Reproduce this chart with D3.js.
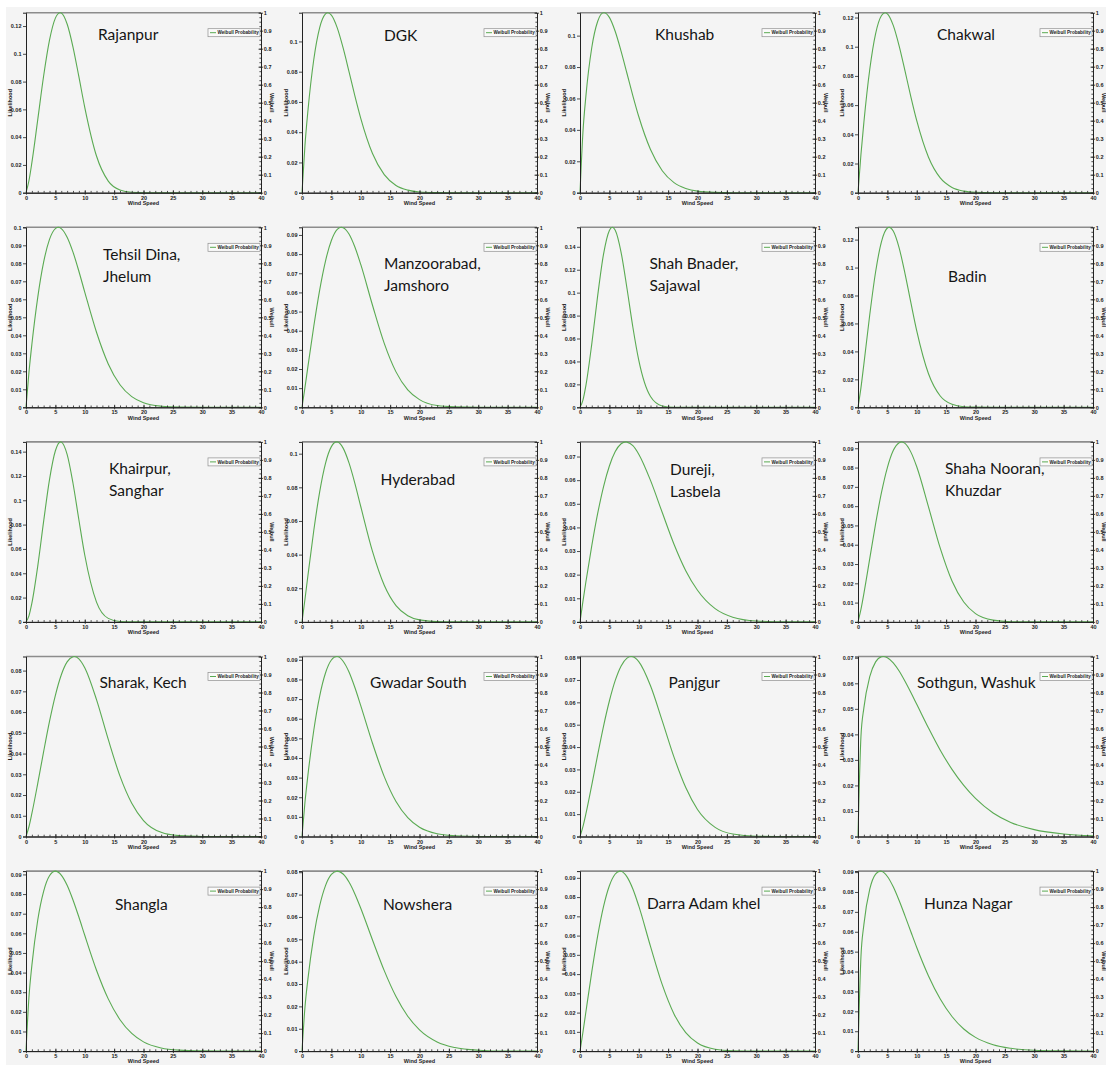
<!DOCTYPE html>
<html>
<head>
<meta charset="utf-8">
<script src="https://cdn.jsdelivr.net/npm/d3@7"></script>
<style>
  html, body { margin: 0; padding: 0; background: #ffffff; }
  svg { display: block; }
</style>
</head>
<body>
<svg id="chart" width="1106" height="1065"></svg>
<script>
// Weibull wind-speed likelihood curves, one panel per site.

const sites = [
  ["Rajanpur"], ["DGK"], ["Khushab"], ["Chakwal"],
  ["Tehsil Dina,", "Jhelum"], ["Manzoorabad,", "Jamshoro"], ["Shah Bnader,", "Sajawal"], ["Badin"],
  ["Khairpur,", "Sanghar"], ["Hyderabad"], ["Dureji,", "Lasbela"], ["Shaha Nooran,", "Khuzdar"],
  ["Sharak, Kech"], ["Gwadar South"], ["Panjgur"], ["Sothgun, Washuk"],
  ["Shangla"], ["Nowshera"], ["Darra Adam khel"], ["Hunza Nagar"]
];

// wind speeds at which each likelihood curve is sampled
const windSpeeds = [0, 0.5, 1, 2, 3, 4, 5, 6, 7, 8, 9, 10, 12, 14, 16, 18, 20, 23, 26, 30, 35, 40];

const rajanpur    = [0, 0.0086, 0.0216, 0.0526, 0.0840, 0.1098, 0.1257, 0.1294, 0.1215, 0.1049, 0.0835, 0.0615, 0.0264, 0.0083, 0.0019, 0.0003, 0, 0, 0, 0, 0, 0];
const dgk         = [0, 0.0311, 0.0538, 0.0879, 0.1090, 0.1182, 0.1174, 0.1090, 0.0957, 0.0801, 0.0640, 0.0492, 0.0259, 0.0119, 0.0048, 0.0017, 0.0005, 0.0001, 0, 0, 0, 0];
const khushab     = [0, 0.0385, 0.0614, 0.0923, 0.1090, 0.1146, 0.1116, 0.1026, 0.0900, 0.0759, 0.0617, 0.0485, 0.0275, 0.0140, 0.0064, 0.0027, 0.0010, 0.0002, 0, 0, 0, 0];
const chakwal     = [0, 0.0262, 0.0482, 0.0844, 0.1090, 0.1214, 0.1225, 0.1146, 0.1006, 0.0834, 0.0657, 0.0493, 0.0243, 0.0101, 0.0036, 0.0011, 0.0003, 0, 0, 0, 0, 0];
const tehsilDina  = [0, 0.0193, 0.0350, 0.0611, 0.0806, 0.0933, 0.0993, 0.0993, 0.0945, 0.0862, 0.0756, 0.0640, 0.0417, 0.0241, 0.0125, 0.0059, 0.0025, 0.0006, 0.0001, 0, 0, 0];
const manzoorabad = [0, 0.0103, 0.0211, 0.0422, 0.0611, 0.0764, 0.0871, 0.0929, 0.0938, 0.0905, 0.0837, 0.0746, 0.0533, 0.0334, 0.0185, 0.0091, 0.0040, 0.0009, 0.0002, 0, 0, 0];
const shahBnader  = [0, 0.0063, 0.0189, 0.0551, 0.0970, 0.1334, 0.1543, 0.1544, 0.1350, 0.1036, 0.0698, 0.0411, 0.0094, 0.0012, 0.0001, 0, 0, 0, 0, 0, 0, 0];
const badin       = [0, 0.0139, 0.0309, 0.0662, 0.0970, 0.1186, 0.1283, 0.1261, 0.1141, 0.0957, 0.0749, 0.0547, 0.0240, 0.0081, 0.0021, 0.0004, 0.0001, 0, 0, 0, 0, 0];
const khairpur    = [0, 0.0050, 0.0154, 0.0459, 0.0826, 0.1170, 0.1407, 0.1479, 0.1377, 0.1140, 0.0840, 0.0550, 0.0163, 0.0029, 0.0003, 0, 0, 0, 0, 0, 0, 0];
const hyderabad   = [0, 0.0133, 0.0273, 0.0542, 0.0772, 0.0943, 0.1042, 0.1070, 0.1033, 0.0945, 0.0824, 0.0686, 0.0419, 0.0218, 0.0097, 0.0037, 0.0012, 0.0002, 0, 0, 0, 0];
const dureji      = [0, 0.0087, 0.0169, 0.0322, 0.0458, 0.0572, 0.0660, 0.0721, 0.0754, 0.0761, 0.0746, 0.0710, 0.0599, 0.0463, 0.0329, 0.0217, 0.0134, 0.0056, 0.0020, 0.0004, 0, 0];
const shahaNooran = [0, 0.0065, 0.0147, 0.0328, 0.0509, 0.0671, 0.0800, 0.0888, 0.0929, 0.0925, 0.0880, 0.0804, 0.0596, 0.0382, 0.0212, 0.0103, 0.0043, 0.0009, 0.0001, 0, 0, 0];
const sharak      = [0, 0.0047, 0.0111, 0.0256, 0.0409, 0.0555, 0.0681, 0.0779, 0.0842, 0.0867, 0.0857, 0.0814, 0.0660, 0.0468, 0.0291, 0.0160, 0.0077, 0.0020, 0.0004, 0, 0, 0];
const gwadar      = [0, 0.0173, 0.0311, 0.0540, 0.0714, 0.0833, 0.0899, 0.0917, 0.0893, 0.0838, 0.0759, 0.0667, 0.0475, 0.0305, 0.0178, 0.0096, 0.0047, 0.0014, 0.0004, 0, 0, 0];
const panjgur     = [0, 0.0044, 0.0101, 0.0230, 0.0364, 0.0493, 0.0606, 0.0698, 0.0763, 0.0798, 0.0804, 0.0782, 0.0674, 0.0517, 0.0355, 0.0219, 0.0121, 0.0041, 0.0011, 0.0001, 0, 0];
const sothgun     = [0, 0.0391, 0.0504, 0.0626, 0.0684, 0.0704, 0.0700, 0.0680, 0.0648, 0.0608, 0.0564, 0.0518, 0.0425, 0.0338, 0.0263, 0.0200, 0.0149, 0.0092, 0.0055, 0.0027, 0.0010, 0.0003];
const shangla     = [0, 0.0274, 0.0437, 0.0668, 0.0814, 0.0893, 0.0917, 0.0897, 0.0845, 0.0770, 0.0683, 0.0590, 0.0412, 0.0266, 0.0160, 0.0090, 0.0047, 0.0016, 0.0005, 0.0001, 0, 0];
const nowshera    = [0, 0.0195, 0.0321, 0.0513, 0.0649, 0.0740, 0.0790, 0.0805, 0.0792, 0.0756, 0.0703, 0.0639, 0.0497, 0.0360, 0.0244, 0.0156, 0.0095, 0.0041, 0.0016, 0.0004, 0, 0];
const darraAdam   = [0, 0.0098, 0.0203, 0.0410, 0.0597, 0.0750, 0.0859, 0.0920, 0.0934, 0.0905, 0.0842, 0.0754, 0.0544, 0.0345, 0.0193, 0.0096, 0.0042, 0.0010, 0.0002, 0, 0, 0];
const hunzaNagar  = [0, 0.0473, 0.0636, 0.0814, 0.0890, 0.0904, 0.0878, 0.0826, 0.0757, 0.0680, 0.0600, 0.0521, 0.0378, 0.0262, 0.0174, 0.0111, 0.0069, 0.0032, 0.0014, 0.0004, 0.0001, 0];

const likelihoodSeries = [
  rajanpur, dgk, khushab, chakwal,
  tehsilDina, manzoorabad, shahBnader, badin,
  khairpur, hyderabad, dureji, shahaNooran,
  sharak, gwadar, panjgur, sothgun,
  shangla, nowshera, darraAdam, hunzaNagar
];

// most likely wind speed and its likelihood (top of each left axis)
const peakSpeed      = [5.8, 4.4, 4.1, 4.6, 5.5, 6.7, 5.5, 5.3, 5.9, 5.9, 7.8, 7.4, 8.2, 5.9, 8.7, 4.3, 5.0, 6.0, 6.8, 3.8];
const peakLikelihood = [0.1296, 0.119, 0.1146, 0.1233, 0.100, 0.094, 0.157, 0.1288, 0.148, 0.107, 0.0762, 0.0933, 0.0868, 0.0917, 0.0805, 0.0705, 0.0917, 0.0805, 0.0935, 0.0905];

// tick labels
const likelihoodTickStep = [0.02, 0.02, 0.02, 0.02, 0.01, 0.01, 0.02, 0.02, 0.02, 0.02, 0.01, 0.01, 0.01, 0.01, 0.01, 0.01, 0.01, 0.01, 0.01, 0.01];
const speedTicks = [0, 5, 10, 15, 20, 25, 30, 35, 40];
const weibullTicks = [0, 0.1, 0.2, 0.3, 0.4, 0.5, 0.6, 0.7, 0.8, 0.9, 1];

// ---- layout ----
const colLeft = [26, 302, 580, 858];
const rowTop0 = 12.7, rowStep = 214.6;
const plotW = 235, plotH = 180;
// title placement inside each panel: [left offset, first baseline offset]
const titleLayout = [
  [72, 27.5], [82, 28.5], [75, 27.5], [79, 27.5],
  [77, 33], [82, 42], [69.5, 42], [90, 55],
  [83, 32], [78.5, 43], [90, 33], [87, 32],
  [73.5, 31], [68, 31], [88.5, 31], [59, 31],
  [89, 38.5], [81, 39], [67, 38], [66, 38]
];

const curveColor = "#5aaa52";
const axisColor = "#222";
const tickFont = "'Liberation Sans', Arial, sans-serif";
const fmt = v => String(+v.toFixed(3));

const svg = d3.select("#chart");
svg.append("rect")
  .attr("x", 6).attr("y", 7).attr("width", 1100).attr("height", 1058)
  .attr("fill", "#f4f4f4");

function styleAxis(sel) {
  sel.select(".domain").attr("stroke", axisColor).attr("stroke-width", 1);
  sel.selectAll(".tick line").attr("stroke", axisColor).attr("stroke-width", 0.8);
  sel.selectAll(".tick text")
    .attr("fill", axisColor)
    .style("font-family", tickFont)
    .style("font-size", "5.5px")
    .style("font-weight", "bold");
}

sites.forEach((lines, i) => {
  const left = colLeft[i % 4];
  const top = rowTop0 + Math.floor(i / 4) * rowStep;
  const g = svg.append("g").attr("transform", `translate(${left},${top})`);

  const x = d3.scaleLinear().domain([0, 40]).range([0, plotW]);
  const y = d3.scaleLinear().domain([0, peakLikelihood[i]]).range([plotH, 0]);
  const yR = d3.scaleLinear().domain([0, 1]).range([plotH, 0]);

  // top frame line
  g.append("line")
    .attr("x1", 0).attr("x2", plotW).attr("y1", 0).attr("y2", 0)
    .attr("stroke", "#8c8c8c").attr("stroke-width", 1.6);

  // likelihood curve, with the peak point merged into the samples
  const pts = windSpeeds
    .map((s, j) => [s, likelihoodSeries[i][j]])
    .filter(p => Math.abs(p[0] - peakSpeed[i]) > 0.05);
  pts.push([peakSpeed[i], peakLikelihood[i]]);
  pts.sort((a, b) => a[0] - b[0]);

  g.append("path")
    .datum(pts)
    .attr("fill", "none")
    .attr("stroke", curveColor)
    .attr("stroke-width", 1.1)
    .attr("d", d3.line()
      .x(d => x(d[0]))
      .y(d => y(d[1]))
      .curve(d3.curveMonotoneX));

  // left axis: likelihood
  const lTicks = d3.range(0, peakLikelihood[i] + 1e-9, likelihoodTickStep[i]);
  g.append("g")
    .call(d3.axisLeft(y).tickValues(lTicks).tickFormat(fmt).tickSize(3).tickPadding(1.5))
    .call(styleAxis);

  // bottom axis: wind speed, minor ticks every unit
  g.append("g")
    .attr("transform", `translate(0,${plotH})`)
    .call(d3.axisBottom(x).tickValues(d3.range(0, 41, 1)).tickFormat("").tickSizeInner(-1.8).tickSizeOuter(0))
    .call(styleAxis);
  g.append("g")
    .attr("transform", `translate(0,${plotH})`)
    .call(d3.axisBottom(x).tickValues(speedTicks).tickFormat(fmt).tickSizeInner(2).tickSizeOuter(0).tickPadding(1.2))
    .call(styleAxis)
    .call(s => s.selectAll(".tick line").attr("y1", -2.5));

  // right axis: 0-1 scale with minor ticks
  g.append("g")
    .attr("transform", `translate(${plotW},0)`)
    .call(d3.axisRight(yR).tickValues(d3.range(0, 1.0001, 0.025)).tickFormat("").tickSizeInner(-1.6).tickSizeOuter(0))
    .call(styleAxis);
  g.append("g")
    .attr("transform", `translate(${plotW},0)`)
    .call(d3.axisRight(yR).tickValues(weibullTicks).tickFormat(fmt).tickSizeInner(2).tickSizeOuter(0).tickPadding(0.8))
    .call(styleAxis)
    .call(s => s.selectAll(".tick line").attr("x1", -2.5));

  // axis titles
  const labelStyle = s => s
    .attr("fill", axisColor)
    .style("font-family", tickFont)
    .style("font-size", "5.5px")
    .style("font-weight", "bold");

  g.append("text")
    .attr("x", plotW / 2).attr("y", plotH + 12.4)
    .attr("text-anchor", "middle")
    .text("Wind Speed")
    .call(labelStyle);

  g.append("text")
    .attr("transform", `translate(-15.5,${plotH / 2}) rotate(-90)`)
    .attr("text-anchor", "middle")
    .attr("dy", "0.35em")
    .text("Likelihood")
    .call(labelStyle);

  g.append("text")
    .attr("transform", `translate(${plotW + 11},${plotH / 2}) rotate(90)`)
    .attr("text-anchor", "middle")
    .attr("dy", "0.35em")
    .text("Weibull")
    .call(labelStyle);

  // legend
  const lg = g.append("g").attr("transform", `translate(${plotW - 53},16)`);
  lg.append("rect")
    .attr("width", 52).attr("height", 8)
    .attr("fill", "#fafafa")
    .attr("stroke", "#8f8f8f").attr("stroke-width", 0.7);
  lg.append("line")
    .attr("x1", 2).attr("x2", 8).attr("y1", 4).attr("y2", 4)
    .attr("stroke", curveColor).attr("stroke-width", 1);
  lg.append("text")
    .attr("x", 9.5).attr("y", 5.8)
    .text("Weibull Probability")
    .attr("fill", axisColor)
    .style("font-family", tickFont)
    .style("font-size", "4.6px")
    .style("font-weight", "bold");

  // site name
  const [tx, ty] = titleLayout[i];
  const t = g.append("text")
    .attr("fill", "#151515")
    .style("font-family", "Lato, 'Open Sans', sans-serif")
    .style("font-size", "15.5px");
  lines.forEach((line, k) => {
    t.append("tspan").attr("x", tx).attr("y", ty + k * 22).text(line);
  });
});
</script>
</body>
</html>
